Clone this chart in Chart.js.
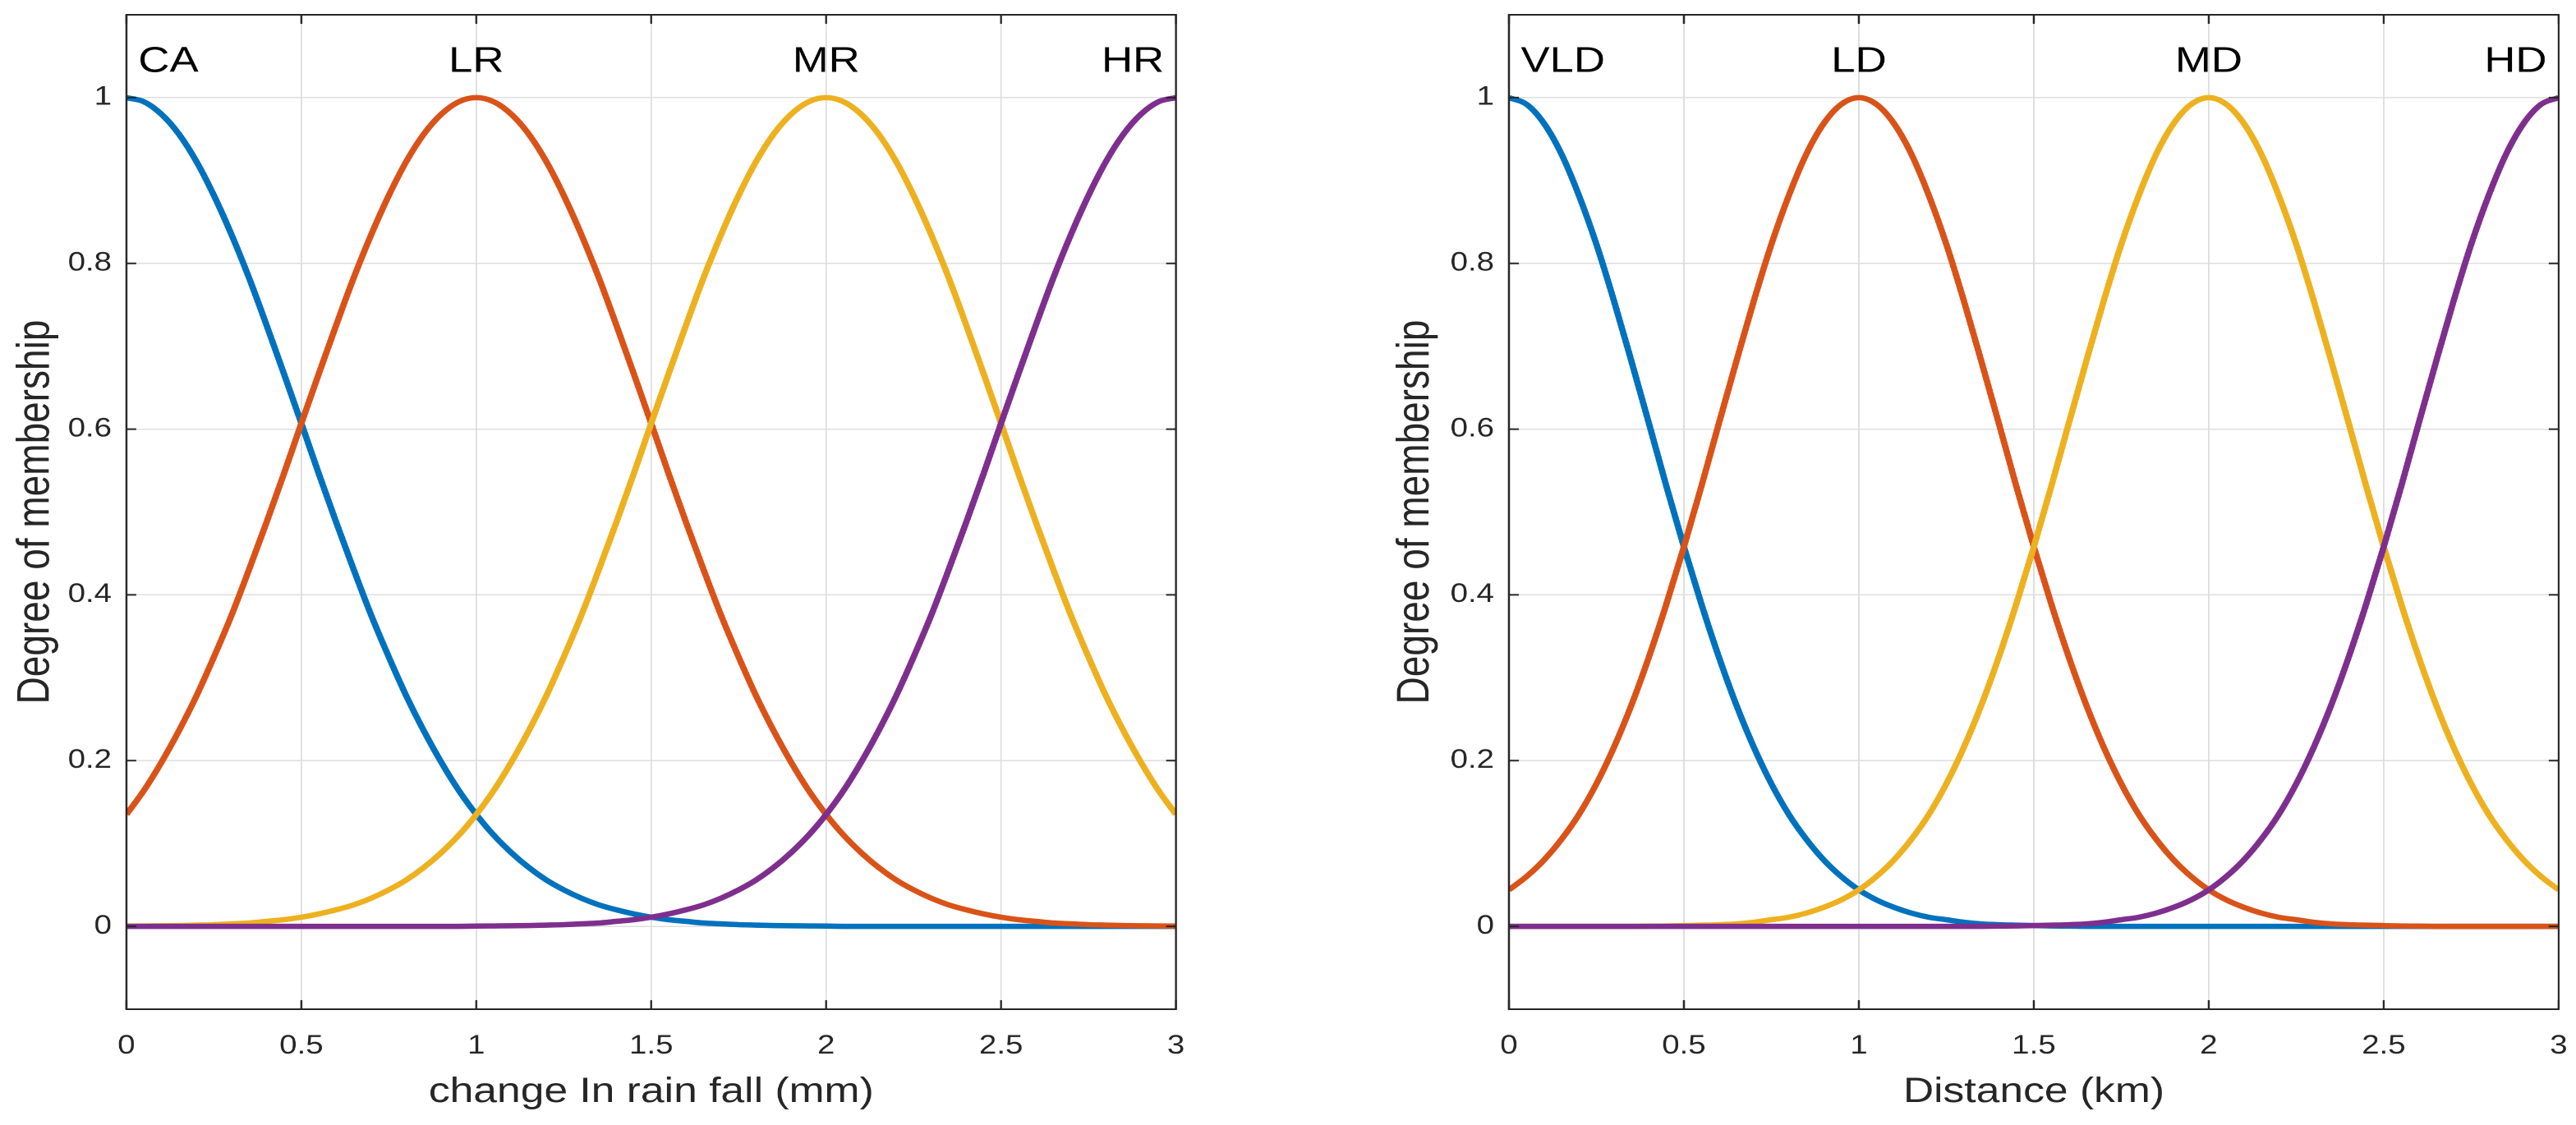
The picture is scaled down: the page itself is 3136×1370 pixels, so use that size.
<!DOCTYPE html>
<html><head><meta charset="utf-8">
<script src="https://cdn.jsdelivr.net/npm/chart.js@4.4.1/dist/chart.umd.min.js"></script>
<style>
html,body{margin:0;padding:0;background:#fff;overflow:hidden}
#wrap{position:relative;width:3136px;height:1370px;background:#fff}
canvas{position:absolute;top:0}
#c1{left:0}
#c2{left:1568px}
</style></head><body>
<div id="wrap">
<canvas id="c1" width="1307" height="1370" style="width:1568px;height:1370px"></canvas>
<canvas id="c2" width="1307" height="1370" style="width:1568px;height:1370px"></canvas>
</div>
<script>
// ---------- data ----------
const xValues = [0,0.05,0.1,0.15,0.2,0.25,0.3,0.35,0.4,0.45,0.5,0.55,0.6,0.65,0.7,0.75,0.8,0.85,0.9,0.95,
                 1,1.05,1.1,1.15,1.2,1.25,1.3,1.35,1.4,1.45,1.5,1.55,1.6,1.65,1.7,1.75,1.8,1.85,1.9,1.95,
                 2,2.05,2.1,2.15,2.2,2.25,2.3,2.35,2.4,2.45,2.5,2.55,2.6,2.65,2.7,2.75,2.8,2.85,2.9,2.95,3];

// left panel: change in rain fall
const rainNames = ['CA','LR','MR','HR'];
const rainCenters = [0,1,2,3];
const rainCA = [1,0.995,0.980,0.956,0.923,0.882,0.835,0.783,0.726,0.667,0.607,0.546,0.487,0.430,0.375,0.325,0.278,0.236,0.198,0.164,
                0.135,0.110,0.089,0.071,0.056,0.044,0.034,0.026,0.020,0.015,0.011,0.008,0.006,0.004,0.003,0.002,0.0015,0.001,0.0007,0.0005,
                0.0003,0,0,0,0,0,0,0,0,0,0,0,0,0,0,0,0,0,0,0,0];
const rainLR = [0.135,0.164,0.198,0.236,0.278,0.325,0.375,0.430,0.487,0.546,0.607,0.667,0.726,0.783,0.835,0.882,0.923,0.956,0.980,0.995,
                1,0.995,0.980,0.956,0.923,0.882,0.835,0.783,0.726,0.667,0.607,0.546,0.487,0.430,0.375,0.325,0.278,0.236,0.198,0.164,
                0.135,0.110,0.089,0.071,0.056,0.044,0.034,0.026,0.020,0.015,0.011,0.008,0.006,0.004,0.003,0.002,0.0015,0.001,0.0007,0.0005,0.0003];
const rainMR = [0.0003,0.0005,0.0007,0.001,0.0015,0.002,0.003,0.004,0.006,0.008,0.011,0.015,0.020,0.026,0.034,0.044,0.056,0.071,0.089,0.110,
                0.135,0.164,0.198,0.236,0.278,0.325,0.375,0.430,0.487,0.546,0.607,0.667,0.726,0.783,0.835,0.882,0.923,0.956,0.980,0.995,
                1,0.995,0.980,0.956,0.923,0.882,0.835,0.783,0.726,0.667,0.607,0.546,0.487,0.430,0.375,0.325,0.278,0.236,0.198,0.164,0.135];
const rainHR = [0,0,0,0,0,0,0,0,0,0,0,0,0,0,0,0,0,0,0,0,
                0.0003,0.0005,0.0007,0.001,0.0015,0.002,0.003,0.004,0.006,0.008,0.011,0.015,0.020,0.026,0.034,0.044,0.056,0.071,0.089,0.110,
                0.135,0.164,0.198,0.236,0.278,0.325,0.375,0.430,0.487,0.546,0.607,0.667,0.726,0.783,0.835,0.882,0.923,0.956,0.980,0.995,1];

// right panel: distance
const distNames = ['VLD','LD','MD','HD'];
const distCenters = [0,1,2,3];
const distVLD = [1,0.992,0.969,0.932,0.882,0.823,0.755,0.682,0.607,0.531,0.458,0.389,0.325,0.267,0.216,0.172,0.135,0.105,0.080,0.060,
                 0.044,0.032,0.023,0.016,0.011,0.008,0.005,0.003,0.002,0.0014,0.0009,0.0005,0.0003,0,0,0,0,0,0,0,
                 0,0,0,0,0,0,0,0,0,0,0,0,0,0,0,0,0,0,0,0,0];
const distLD = [0.044,0.060,0.080,0.105,0.135,0.172,0.216,0.267,0.325,0.389,0.458,0.531,0.607,0.682,0.755,0.823,0.882,0.932,0.969,0.992,
                1,0.992,0.969,0.932,0.882,0.823,0.755,0.682,0.607,0.531,0.458,0.389,0.325,0.267,0.216,0.172,0.135,0.105,0.080,0.060,
                0.044,0.032,0.023,0.016,0.011,0.008,0.005,0.003,0.002,0.0014,0.0009,0.0005,0.0003,0,0,0,0,0,0,0,0];
const distMD = [0,0,0,0,0,0,0,0,0.0003,0.0005,0.0009,0.0014,0.002,0.003,0.005,0.008,0.011,0.016,0.023,0.032,
                0.044,0.060,0.080,0.105,0.135,0.172,0.216,0.267,0.325,0.389,0.458,0.531,0.607,0.682,0.755,0.823,0.882,0.932,0.969,0.992,
                1,0.992,0.969,0.932,0.882,0.823,0.755,0.682,0.607,0.531,0.458,0.389,0.325,0.267,0.216,0.172,0.135,0.105,0.080,0.060,0.044];
const distHD = [0,0,0,0,0,0,0,0,0,0,0,0,0,0,0,0,0,0,0,0,
                0,0,0,0,0,0,0,0,0.0003,0.0005,0.0009,0.0014,0.002,0.003,0.005,0.008,0.011,0.016,0.023,0.032,
                0.044,0.060,0.080,0.105,0.135,0.172,0.216,0.267,0.325,0.389,0.458,0.531,0.607,0.682,0.755,0.823,0.882,0.932,0.969,0.992,1];

const xTicks = [0,0.5,1,1.5,2,2.5,3];
const xTickLabels = ['0','0.5','1','1.5','2','2.5','3'];
const yTicks = [0,0.2,0.4,0.6,0.8,1];
const yTickLabels = ['0','0.2','0.4','0.6','0.8','1'];
const labelY = 1.031;

// ---------- styling ----------
const FONT = '"Liberation Sans", Arial, Helvetica, sans-serif';
const COLORS = ['#0072BD','#D95319','#EDB120','#7E2F8E'];
const AXIS = '#262626';
const GRID = '#dedede';
const CLEAR = 'rgba(0,0,0,0)';

const framePlugin = {
  id: 'frame',
  afterDatasetsDraw(chart, args, opts) {
    const {ctx, chartArea: a} = chart;
    const x = chart.scales.x, y = chart.scales.y;
    ctx.save();
    ctx.strokeStyle = AXIS;
    ctx.lineWidth = 2;
    ctx.strokeRect(a.left, a.top, a.right - a.left, a.bottom - a.top);
    ctx.beginPath();
    x.ticks.forEach(t => {
      const px = x.getPixelForValue(t.value);
      ctx.moveTo(px, a.bottom); ctx.lineTo(px, a.bottom - 11);
      ctx.moveTo(px, a.top); ctx.lineTo(px, a.top + 11);
    });
    y.ticks.forEach(t => {
      const py = y.getPixelForValue(t.value);
      ctx.moveTo(a.left, py); ctx.lineTo(a.left + 10, py);
      ctx.moveTo(a.right, py); ctx.lineTo(a.right - 10, py);
    });
    ctx.stroke();
    ctx.fillStyle = '#000';
    ctx.font = '44px ' + FONT;
    ctx.textBaseline = 'alphabetic';
    const n = opts.names.length;
    opts.names.forEach((name, i) => {
      let px = x.getPixelForValue(opts.centers[i]);
      let align = 'center';
      if (i === 0) { align = 'left'; px += 12; }
      else if (i === n - 1) { align = 'right'; px -= 12; }
      ctx.textAlign = align;
      ctx.fillText(name, px, y.getPixelForValue(labelY));
    });
    ctx.restore();
  }
};

function makeChart(id, series, names, centers, xTitle, pad, yWidth) {
  const datasets = series.map((vals, i) => ({
    data: xValues.map((xv, j) => ({x: xv, y: vals[j]})),
    borderColor: COLORS[i],
    backgroundColor: COLORS[i],
    borderWidth: 6.5,
    pointRadius: 0,
    fill: false,
    cubicInterpolationMode: 'monotone',
    order: 4 - i
  }));
  return new Chart(document.getElementById(id), {
    type: 'line',
    data: {datasets},
    plugins: [framePlugin],
    options: {
      responsive: false,
      devicePixelRatio: 2,
      animation: false,
      layout: {padding: pad},
      plugins: {
        legend: {display: false},
        tooltip: {enabled: false},
        frame: {names, centers}
      },
      scales: {
        x: {
          type: 'linear', min: 0, max: 3,
          afterBuildTicks: s => { s.ticks = xTicks.map(v => ({value: v})); },
          afterFit: s => { s.height = 141; },
          ticks: {
            callback: (v, i) => xTickLabels[i],
            font: {family: FONT, size: 32},
            color: AXIS, padding: 0, maxRotation: 0, autoSkip: false
          },
          grid: {color: GRID, lineWidth: 1.5, drawTicks: true, tickLength: 26, tickColor: CLEAR},
          border: {display: false},
          title: {display: true, text: xTitle, color: AXIS,
                  font: {family: FONT, size: 43}, padding: {top: 0, bottom: 14}}
        },
        y: {
          type: 'linear', min: -0.1, max: 1.1,
          afterBuildTicks: s => { s.ticks = yTicks.map(v => ({value: v})); },
          afterFit: s => { s.width = yWidth; },
          ticks: {
            callback: (v, i) => yTickLabels[i],
            font: {family: FONT, size: 32, lineHeight: 1},
            color: AXIS, padding: 0, autoSkip: false
          },
          grid: {color: GRID, lineWidth: 1.5, drawTicks: true, tickLength: 15, tickColor: CLEAR},
          border: {display: false},
          title: {display: true, text: 'Degree of membership', color: AXIS,
                  font: {family: FONT, size: 46}, padding: {top: 9, bottom: 0}}
        }
      }
    }
  });
}

makeChart('c1', [rainCA, rainLR, rainMR, rainHR], rainNames, rainCenters,
  'change In rain fall (mm)', {left: 0, right: 113.7, top: 18, bottom: 0}, 128.3);
makeChart('c2', [distVLD, distLD, distMD, distHD], distNames, distCenters,
  'Distance (km)', {left: 93.3, right: 17.6, top: 18, bottom: 0}, 130.9);
</script>
</body></html>
